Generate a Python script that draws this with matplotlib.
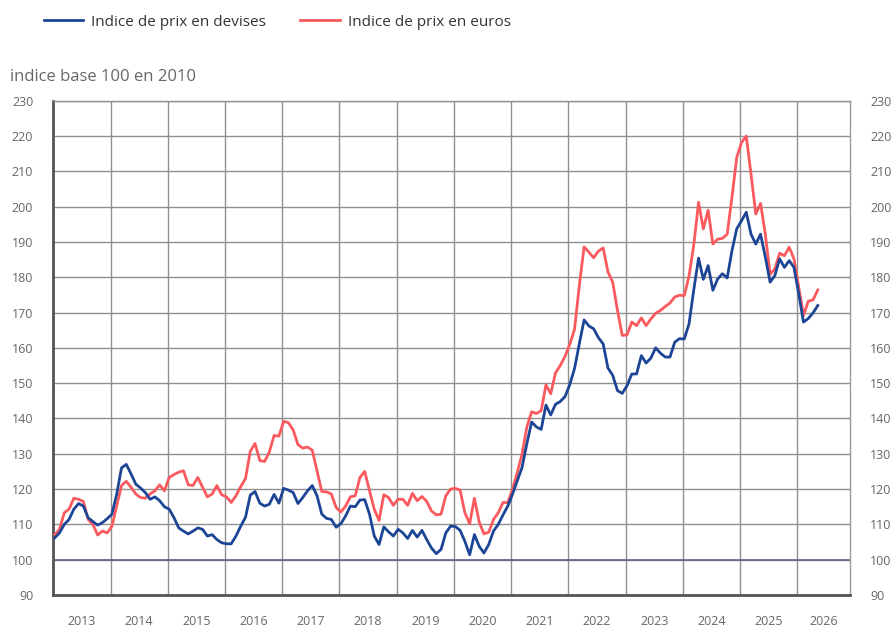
import matplotlib
matplotlib.use("Agg")
import matplotlib.pyplot as plt
import numpy as np

plt.rcParams['font.family'] = ['Open Sans', 'DejaVu Sans']

# Monthly data starting January 2013
start_year = 2013
devises = [
    106.2, 107.6, 110.0, 111.4, 114.3, 115.9, 115.2, 111.9, 110.8, 109.8, 110.5, 111.6,
    112.9, 118.6, 126.0, 127.0, 124.3, 121.4, 120.3, 119.0, 117.1, 117.8, 116.7, 115.0,
    114.3, 111.9, 109.0, 108.1, 107.3, 108.1, 109.0, 108.6, 106.7, 107.1, 105.7, 104.8,
    104.5, 104.5, 106.7, 109.5, 112.0, 118.3, 119.3, 116.0, 115.2, 115.7, 118.5, 116.0,
    120.2, 119.7, 119.0, 115.9, 117.6, 119.5, 121.0, 118.1, 112.9, 111.7, 111.4, 109.2,
    110.2, 112.4, 115.2, 115.0, 116.9, 117.0, 112.9, 106.7, 104.3, 109.3, 107.9, 106.7,
    108.6, 107.6, 106.0, 108.3, 106.4, 108.3, 105.7, 103.3, 101.7, 102.9, 107.6, 109.5,
    109.4, 108.3, 105.2, 101.4, 107.1, 103.8, 101.9, 104.3, 108.1, 110.0, 112.7, 115.2,
    118.6, 122.4, 126.2, 132.9, 139.0, 137.6, 136.9, 143.8, 141.0, 144.0, 144.8, 146.2,
    149.6, 154.2, 161.2, 167.9, 166.2, 165.4, 162.9, 161.1, 154.3, 152.2, 147.9, 147.1,
    149.3, 152.6, 152.6, 157.8, 155.7, 157.1, 160.0, 158.5, 157.4, 157.4, 161.6, 162.6,
    162.5, 166.8, 176.5, 185.4, 179.4, 183.3, 176.3, 179.5, 181.0, 179.8, 187.5, 193.7,
    196.0, 198.4, 192.2, 189.4, 192.2, 185.7, 178.6, 180.5, 185.2, 182.8, 184.7, 182.8,
    175.3, 167.3, 168.3, 169.9, 172.0,
]
euros = [
    107.1, 108.6, 113.3, 114.3, 117.4, 117.1, 116.5, 111.4, 110.0, 107.0, 108.1, 107.6,
    109.5, 115.2, 121.0, 122.2, 120.5, 118.6, 117.6, 117.4, 118.6, 119.5, 121.2, 119.5,
    123.3, 124.1, 124.8, 125.2, 121.2, 121.0, 123.3, 120.5, 117.8, 118.6, 121.0, 118.4,
    117.8, 116.2, 118.1, 120.7, 123.0, 130.7, 132.9, 128.1, 127.8, 130.5, 135.2, 135.0,
    139.2, 138.8, 136.7, 132.6, 131.6, 131.9, 131.0, 125.2, 119.3, 119.2, 118.6, 114.8,
    113.5, 115.2, 117.8, 118.1, 123.3, 125.0, 119.5, 114.3, 111.1, 118.4, 117.6, 115.4,
    117.1, 117.1, 115.4, 118.8, 116.7, 117.9, 116.5, 113.8, 112.7, 112.9, 118.1, 120.0,
    120.2, 119.7, 113.3, 110.2, 117.4, 110.7, 107.3, 107.8, 111.4, 113.3, 116.2, 116.2,
    120.0, 124.8, 130.0, 137.6, 141.9, 141.4, 142.2, 149.5, 147.0, 152.9, 155.0, 157.6,
    161.0, 165.3, 177.7, 188.6, 187.1, 185.5, 187.4, 188.3, 181.5, 178.6, 170.6, 163.5,
    163.7, 167.3, 166.3, 168.5, 166.3, 168.2, 169.8, 170.6, 171.7, 172.7, 174.4, 174.9,
    174.8, 180.3, 189.2, 201.2, 193.7, 199.0, 189.4, 190.8, 191.0, 192.2, 202.6, 213.9,
    218.1, 220.0, 209.2, 197.9, 200.9, 192.2, 180.8, 182.4, 186.8, 186.1, 188.5, 185.2,
    177.2, 169.2, 173.2, 173.6, 176.4,
]
years = list(range(2013, 2027))
y_ticks = list(range(90, 240, 10))

label_devises = "Indice de prix en devises"
label_euros = "Indice de prix en euros"
y_title = "indice base 100 en 2010"

t = start_year + (np.arange(len(devises)) + 0.3) / 12.0

W, H = 892, 628
fig = plt.figure(figsize=(W / 100, H / 100), dpi=100)
ax = fig.add_axes([53.3 / W, 1 - 595 / H, (850 - 53.3) / W, (595 - 100.7) / H])

blue = "#1c4595"
red = "#fa5a5e"
grey_txt = "#666666"

x_min = 2013.0
x_max = 2013 + (850 - 53.3) / 57.23
ax.set_xlim(x_min, x_max)
ax.set_ylim(90, 230)

ax.plot(t, devises, color=blue, lw=2.0, label=label_devises, zorder=4, solid_joinstyle='round')
ax.plot(t, euros, color=red, lw=2.0, label=label_euros, zorder=3, solid_joinstyle='round')

# grid
ax.set_yticks(y_ticks)
ax.set_xticks(years)
ax.set_xticklabels([])
mids = [(y + min(y + 1, x_max)) / 2 for y in years]
ax.set_xticks(mids, minor=True)
ax.set_xticklabels([str(y) for y in years], minor=True)
ax.grid(True, which='major', color='#8f8f8f', lw=1.0, zorder=1)
ax.axhline(100, color='#5d6290', lw=1.2, zorder=2)

ax.tick_params(axis='x', which='both', length=0, pad=14.5, labelsize=9, labelcolor=grey_txt)
ax.tick_params(axis='y', length=0, pad=14.4, labelsize=9, labelcolor=grey_txt,
               labelleft=True, labelright=True)

for s in ['left', 'bottom']:
    ax.spines[s].set_color('#555555')
    ax.spines[s].set_linewidth(2.0)
ax.spines['right'].set_color('#9a9a9a')
ax.spines['right'].set_linewidth(1.0)
ax.spines['top'].set_color('#8f8f8f')
ax.spines['top'].set_linewidth(1.0)

fig.text(10 / W, 1 - 77 / H, y_title, fontsize=12, color=grey_txt, va='center', ha='left')

fs = 11
fig.legend(loc='upper left', bbox_to_anchor=(30 / W, 1 - 1 / H), ncol=2, frameon=False,
           fontsize=fs, handlelength=2.6, handletextpad=0.52, columnspacing=2.2,
           labelcolor='#333333')

fig.savefig("out.png", dpi=100)
